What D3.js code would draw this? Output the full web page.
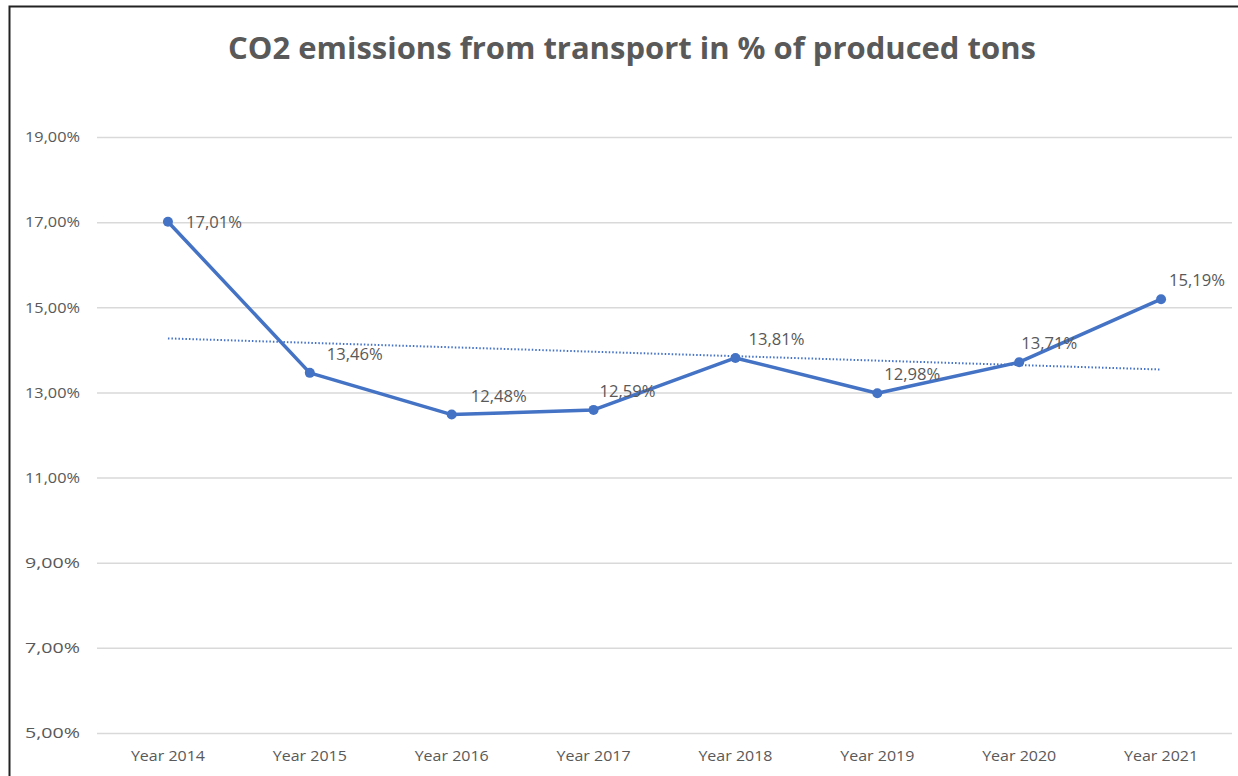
<!DOCTYPE html>
<html>
<head>
<meta charset="utf-8">
<script src="https://cdn.jsdelivr.net/npm/d3@7"></script>
<style>
  html, body { margin: 0; padding: 0; background: #fff; }
  svg { display: block; }
</style>
</head>
<body>
<svg id="chart" width="1238" height="776"></svg>
<script>
// Share of CO2 emissions from transport, per year
const categories = ["Year 2014", "Year 2015", "Year 2016", "Year 2017", "Year 2018", "Year 2019", "Year 2020", "Year 2021"];
const values = [17.01, 13.46, 12.48, 12.59, 13.81, 12.98, 13.71, 15.19];
const yTicks = [5, 7, 9, 11, 13, 15, 17, 19];
const titleText = "CO2 emissions from transport in % of produced tons";

// Layout
const W = 1238, H = 776;
const plot = { left: 97, right: 1232, top: 137, bottom: 733 };
const labelDx = [18, 17, 19, 6, 13, 7, 2, 8];
const textColor = "#595959";
const lineColor = "#4472C4";
const font = "'Open Sans', 'Noto Sans', sans-serif";

const fmt = v => v.toFixed(2).replace(".", ",") + "%";

const svg = d3.select("#chart");

// Frame
svg.append("rect").attr("width", W).attr("height", H).attr("fill", "#fff");
svg.append("path")
  .attr("d", `M9.5,${H} L9.5,6.5 L${W},6.5`)
  .attr("fill", "none").attr("stroke", "#222").attr("stroke-width", 2);

const x = d3.scaleBand().domain(categories).range([plot.left, plot.right]).padding(0);
const y = d3.scaleLinear().domain([5, 19]).range([plot.bottom, plot.top]);
const cx = d => x(d) + x.bandwidth() / 2;

// Gridlines + y axis labels
const yAxis = d3.axisLeft(y).tickValues(yTicks).tickSize(-(plot.right - plot.left)).tickPadding(17).tickFormat(d => fmt(d));
const gy = svg.append("g").attr("transform", `translate(${plot.left},0)`).call(yAxis);
gy.select(".domain").remove();
gy.selectAll(".tick line").attr("stroke", "#d9d9d9").attr("stroke-width", 1.5);
gy.selectAll(".tick text").attr("fill", textColor).style("font-family", font).style("font-size", "15px")
  .attr("textLength", 55).attr("lengthAdjust", "spacingAndGlyphs");

// x axis labels
const xAxis = d3.axisBottom(x).tickSize(0).tickPadding(17);
const gx = svg.append("g").attr("transform", `translate(0,${plot.bottom})`).call(xAxis);
gx.select(".domain").remove();
gx.selectAll(".tick text").attr("fill", textColor).style("font-family", font).style("font-size", "15px")
  .attr("textLength", 74).attr("lengthAdjust", "spacingAndGlyphs");

// Linear trendline (least squares over category index)
const n = values.length;
const xs = d3.range(1, n + 1);
const mx = d3.mean(xs), my = d3.mean(values);
const slope = d3.sum(xs, (xi, i) => (xi - mx) * (values[i] - my)) / d3.sum(xs, xi => (xi - mx) ** 2);
const intercept = my - slope * mx;
svg.append("line")
  .attr("x1", cx(categories[0])).attr("y1", y(intercept + slope * 1))
  .attr("x2", cx(categories[n - 1])).attr("y2", y(intercept + slope * n))
  .attr("stroke", lineColor).attr("stroke-width", 2).attr("stroke-dasharray", "1.5 2");

// Data line
const line = d3.line().x((d, i) => cx(categories[i])).y(d => y(d));
svg.append("path").datum(values)
  .attr("d", line).attr("fill", "none")
  .attr("stroke", lineColor).attr("stroke-width", 3.5).attr("stroke-linejoin", "round");

svg.append("g").selectAll("circle").data(values).join("circle")
  .attr("cx", (d, i) => cx(categories[i])).attr("cy", d => y(d))
  .attr("r", 5).attr("fill", lineColor);

// Value labels
svg.append("g").selectAll("text").data(values).join("text")
  .attr("x", (d, i) => cx(categories[i]) + labelDx[i])
  .attr("y", (d, i) => y(d) + (i === 0 ? 6 : -13))
  .attr("fill", textColor)
  .attr("textLength", 56).attr("lengthAdjust", "spacingAndGlyphs")
  .style("font-family", font).style("font-size", "16px")
  .text(d => fmt(d));

// Title, sized to its span
const title = svg.append("text")
  .attr("x", 632).attr("y", 59).attr("text-anchor", "middle")
  .attr("fill", textColor)
  .style("font-family", font).style("font-weight", 700).style("font-size", "28px")
  .text(titleText);
const tw = title.node().getComputedTextLength();
title.style("font-size", (28 * 808 / tw).toFixed(2) + "px");
</script>
</body>
</html>
